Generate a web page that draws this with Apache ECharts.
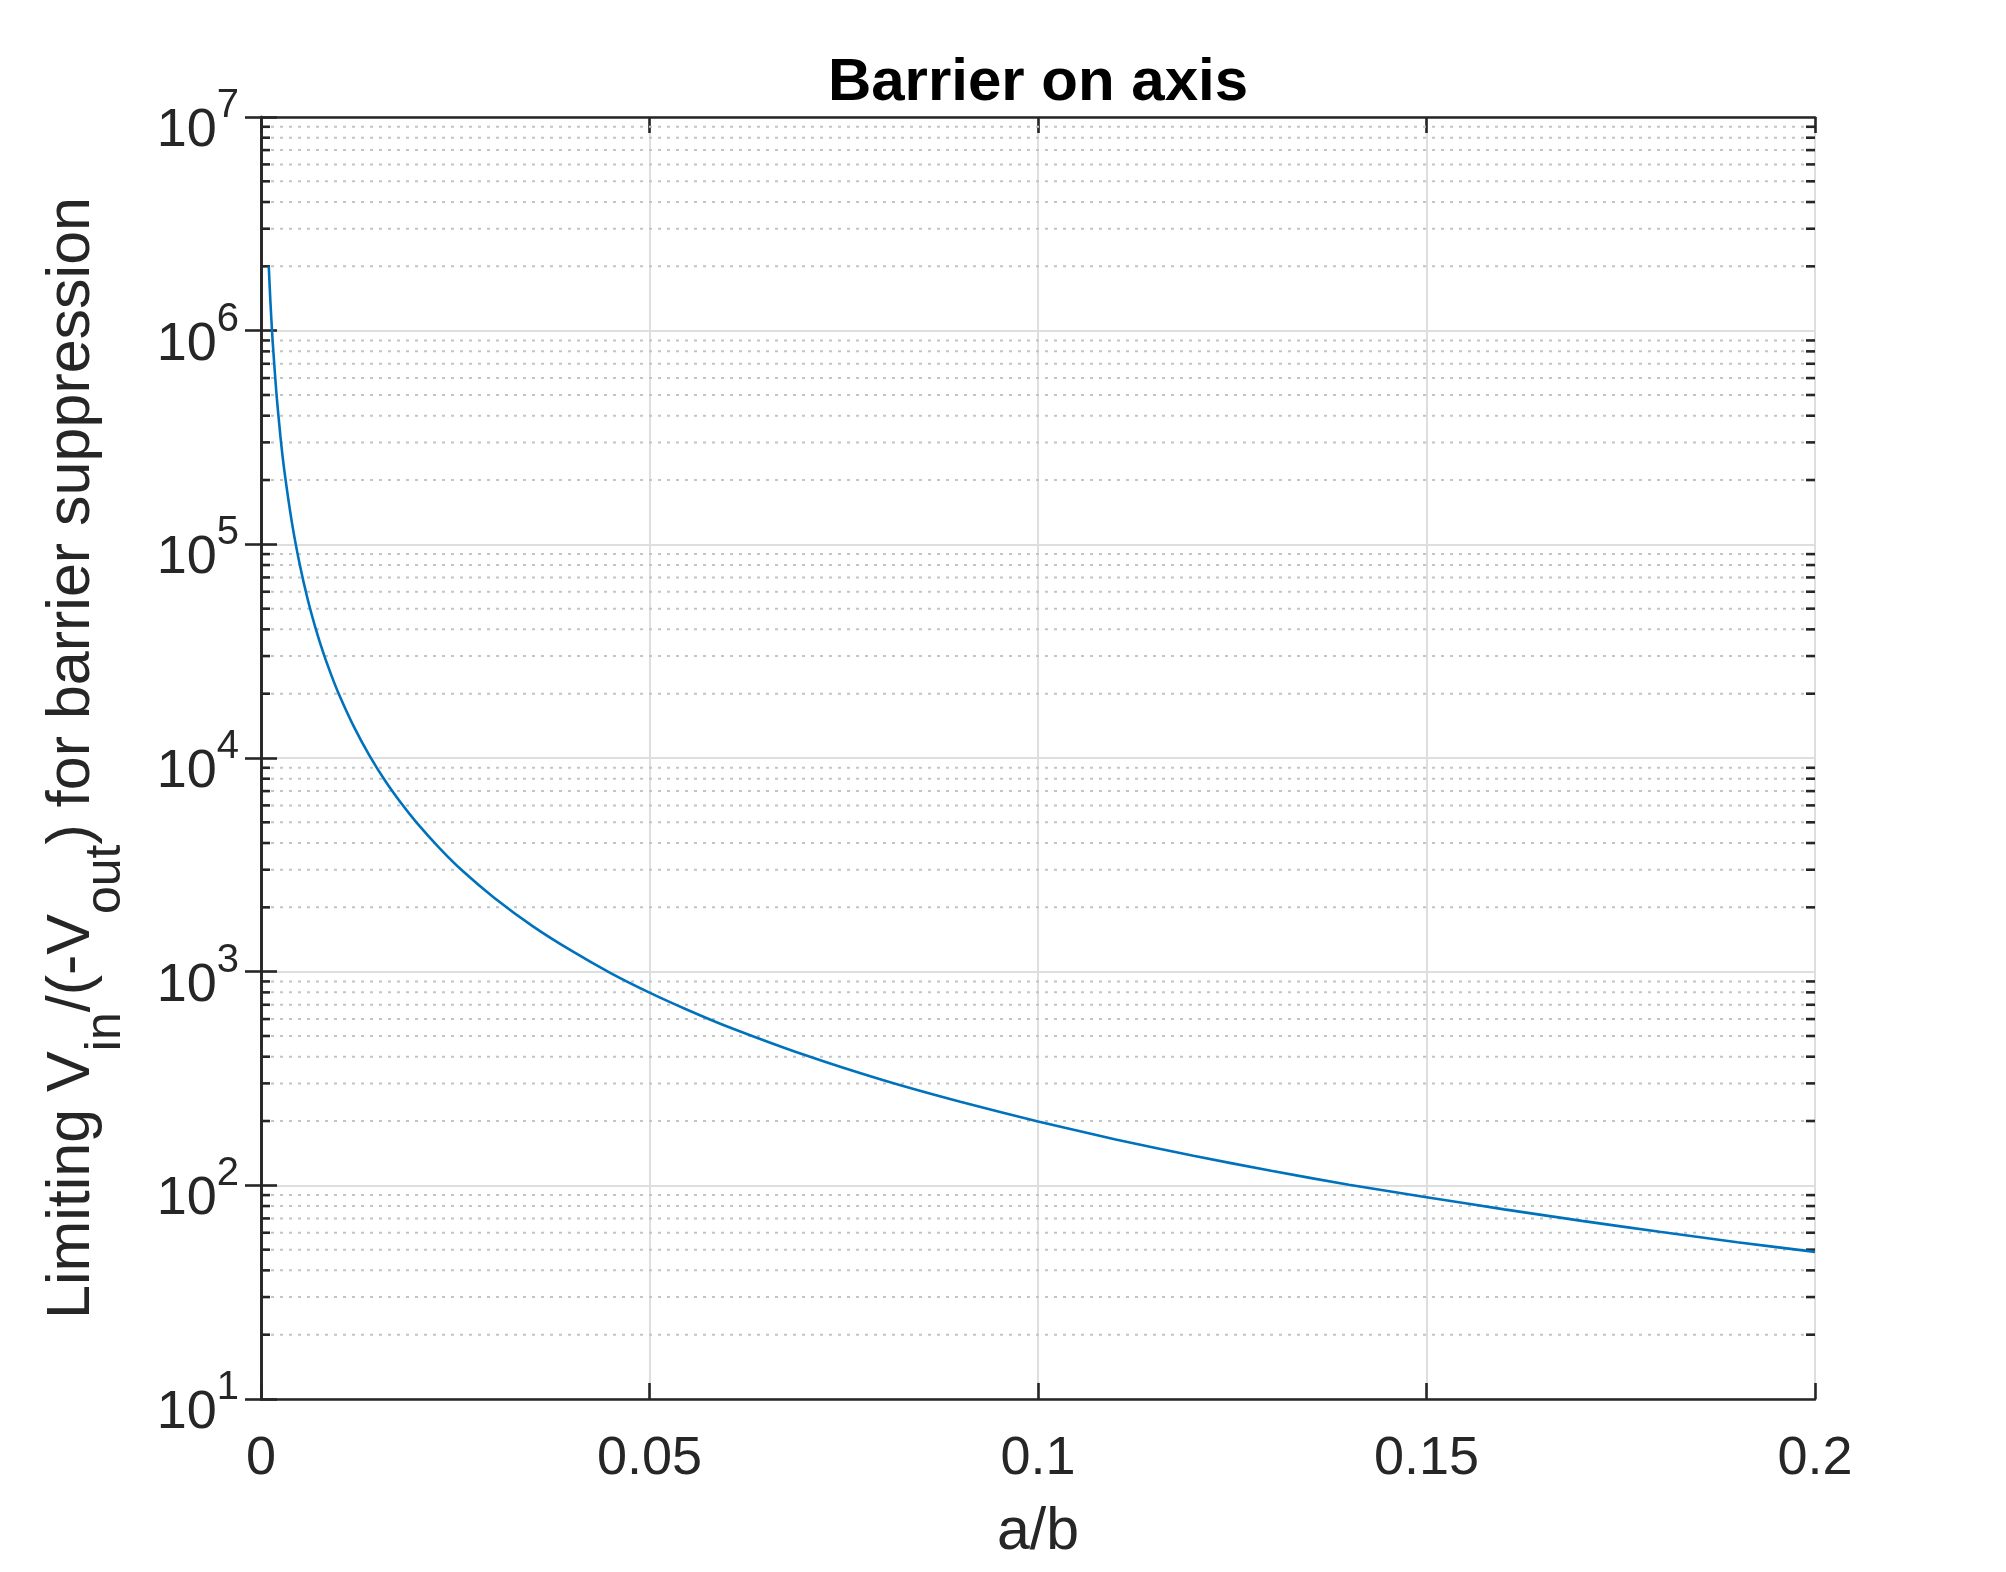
<!DOCTYPE html>
<html>
<head>
<meta charset="utf-8">
<title>Barrier on axis</title>
<script src="https://cdn.jsdelivr.net/npm/echarts@6/dist/echarts.min.js"></script>
<style>
  html, body { margin: 0; padding: 0; background: #fff; }
  #chart { width: 2006px; height: 1572px; }
</style>
</head>
<body>
<div id="chart"></div>
<script>
// a/b along the curve
const ratioAB = [0.001, 0.0012, 0.0015, 0.002, 0.0025, 0.003, 0.004, 0.005, 0.006, 0.007,
  0.008, 0.009, 0.01, 0.012, 0.014, 0.016, 0.018, 0.02, 0.023, 0.026,
  0.03, 0.035, 0.04, 0.045, 0.05, 0.055, 0.06, 0.07, 0.08, 0.09,
  0.1, 0.11, 0.12, 0.13, 0.14, 0.15, 0.16, 0.17, 0.18, 0.19, 0.2]
// limiting Vin/(-Vout)
const limitingRatio = [2000000, 1390000, 890000, 500000, 320000, 222000, 125000, 80000, 55500, 40800,
  31200, 24700, 20000, 13900, 10200, 7800, 6170, 5000, 3780, 2950,
  2220, 1630, 1250, 985, 798, 660, 554, 407, 311, 246,
  199, 164, 137.5, 117, 100.6, 88, 77.2, 68.2, 60.6, 54.2, 48.8]
// axis ranges / ticks
const xTicks = [0, 0.05, 0.1, 0.15, 0.2]
const yDecades = [10, 100, 1000, 10000, 100000, 1000000, 10000000]
const yMinorTicks = []
for (let k = 0; k < yDecades.length - 1; k++) {
  for (let m = 2; m <= 9; m++) yMinorTicks.push(m * yDecades[k])
}

const ink = '#262626'
const font = 'Liberation Sans, Helvetica, Arial, sans-serif'

const chart = echarts.init(document.getElementById('chart'))

const tickSide = {
  axisLine: { show: true, lineStyle: { color: ink, width: 2.6 } },
  axisTick: { show: true, inside: true, length: 16, lineStyle: { color: ink, width: 2.6 } }
}

const option = {
  animation: false,
  backgroundColor: '#ffffff',
  title: {
    text: 'Barrier on axis',
    left: 1038,
    textAlign: 'center',
    top: 53,
    padding: 0,
    textStyle: { fontFamily: font, fontWeight: 'bold', fontSize: 60, lineHeight: 60, color: '#000' }
  },
  grid: { left: 261, right: 191, top: 117, bottom: 173, containLabel: false },
  xAxis: [{
    type: 'value',
    position: 'bottom',
    min: xTicks[0],
    max: xTicks[xTicks.length - 1],
    interval: 0.05,
    ...tickSide,
    axisLabel: {
      fontFamily: font, fontSize: 54, lineHeight: 54, color: ink, margin: 33,
      formatter: v => String(+v.toFixed(2))
    },
    splitLine: { show: true, lineStyle: { color: '#dedede', width: 2 } },
    name: 'a/b',
    nameLocation: 'middle',
    nameGap: 104,
    nameMoveOverlap: false,
    nameTextStyle: { fontFamily: font, fontSize: 59, lineHeight: 60, color: ink }
  }, {
    type: 'value',
    position: 'top',
    min: xTicks[0],
    max: xTicks[xTicks.length - 1],
    interval: 0.05,
    ...tickSide,
    axisLabel: { show: false },
    splitLine: { show: false }
  }],
  yAxis: [{
    type: 'log',
    logBase: 10,
    position: 'left',
    min: yDecades[0],
    max: yDecades[yDecades.length - 1],
    ...tickSide,
    axisLabel: {
      margin: 22,
      padding: [10, 0, 0, 0],
      formatter: v => '{b|10}{s|' + Math.round(Math.log10(v)) + '}',
      rich: {
        b: { fontFamily: font, fontSize: 54, lineHeight: 72, verticalAlign: 'bottom', color: ink },
        s: { fontFamily: font, fontSize: 40, lineHeight: 40, verticalAlign: 'top', color: ink }
      }
    },
    splitLine: { show: true, lineStyle: { color: '#dedede', width: 2 } },
    name: '{m|Limiting V}{sub|in}{m|/(-V}{sub|out}{m|) for barrier suppression}',
    nameLocation: 'middle',
    nameRotate: 90,
    nameGap: 130,
    nameMoveOverlap: false,
    nameTextStyle: {
      fontFamily: font, fontSize: 61, color: ink,
      rich: {
        m: { fontFamily: font, fontSize: 61, lineHeight: 61, verticalAlign: 'top', color: ink },
        sub: { fontFamily: font, fontSize: 50, lineHeight: 89, verticalAlign: 'bottom', color: ink }
      }
    }
  }, {
    type: 'log',
    logBase: 10,
    position: 'right',
    min: yDecades[0],
    max: yDecades[yDecades.length - 1],
    ...tickSide,
    axisLabel: { show: false },
    splitLine: { show: false }
  }],
  series: [{
    // dotted minor grid + minor ticks on both sides
    type: 'custom',
    xAxisIndex: 0,
    yAxisIndex: 0,
    silent: true,
    z: 1,
    data: yMinorTicks.map(v => [0, v]),
    encode: { x: 0, y: 1 },
    renderItem: function (params, api) {
      const cs = params.coordSys
      const y = api.coord([0, api.value(1)])[1]
      return {
        type: 'group',
        children: [
          { type: 'line', shape: { x1: cs.x + 10, y1: y, x2: cs.x + cs.width - 10, y2: y },
            style: { stroke: '#c4c4c4', lineWidth: 2, lineDash: [3, 6] } },
          { type: 'line', shape: { x1: cs.x, y1: y, x2: cs.x + 9, y2: y },
            style: { stroke: ink, lineWidth: 2.6 } },
          { type: 'line', shape: { x1: cs.x + cs.width - 9, y1: y, x2: cs.x + cs.width, y2: y },
            style: { stroke: ink, lineWidth: 2.6 } }
        ]
      }
    }
  }, {
    type: 'line',
    xAxisIndex: 0,
    yAxisIndex: 0,
    z: 3,
    showSymbol: false,
    symbol: 'none',
    smooth: 0.2,
    lineStyle: { color: '#0072BD', width: 2.6 },
    data: ratioAB.map((x, i) => [x, limitingRatio[i]])
  }]
}

chart.setOption(option)
</script>
</body>
</html>
